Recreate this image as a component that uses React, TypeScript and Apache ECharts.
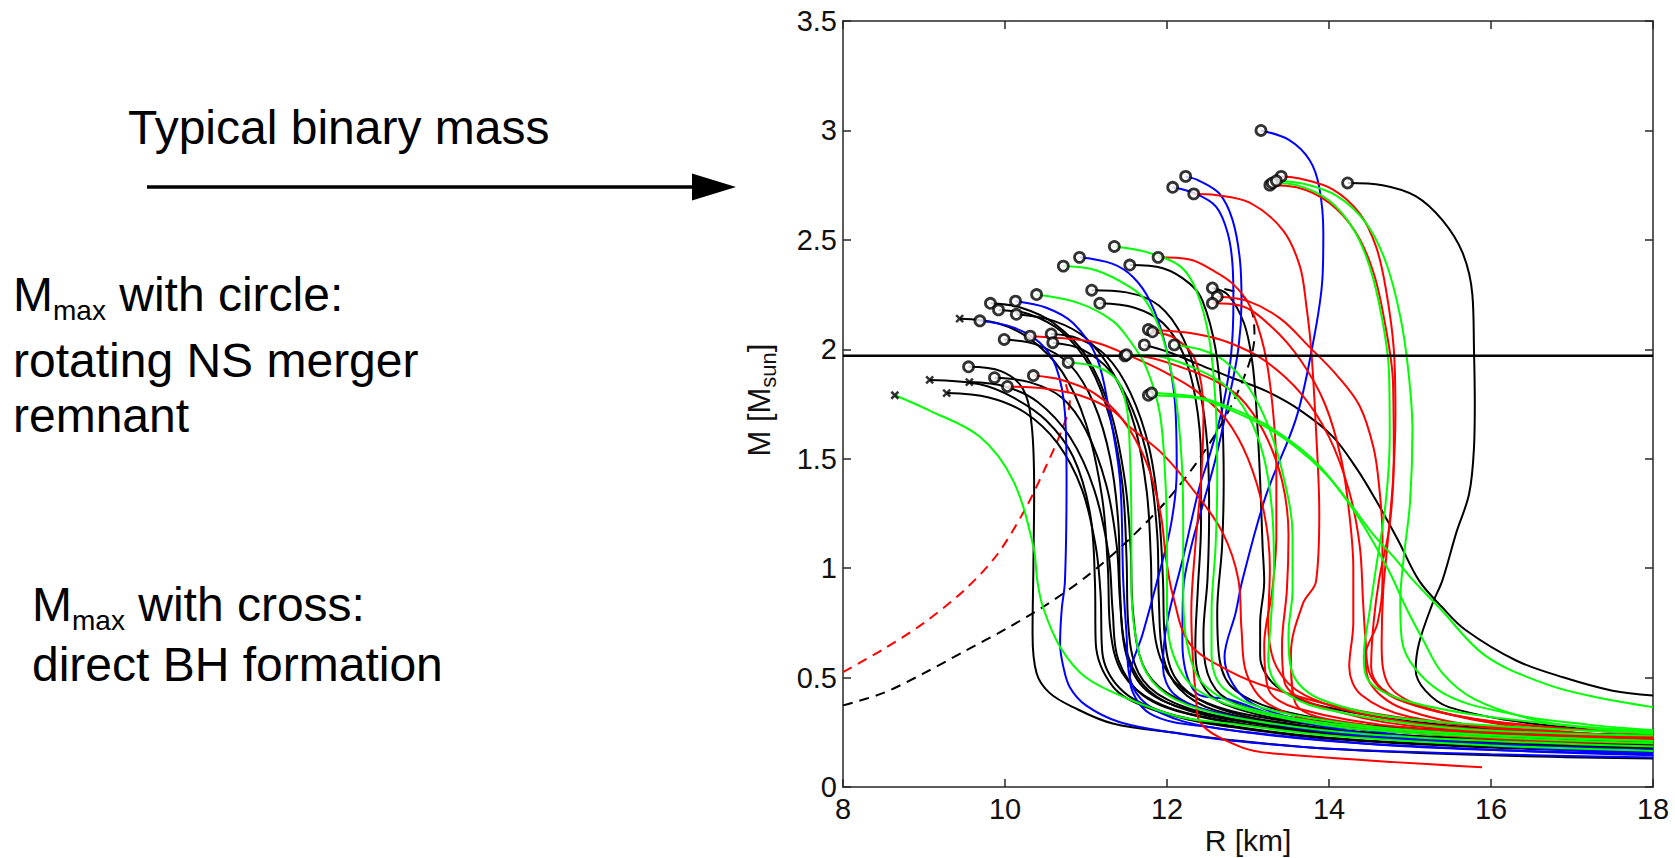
import React, { useEffect, useRef } from "react";
import * as echarts from "echarts";

// ---------- axis ranges / reference values ----------
const X_MIN = 8;
const X_MAX = 18;
const X_STEP = 2;
const Y_MIN = 0;
const Y_MAX = 3.5;
const Y_STEP = 0.5;
const MASS_LINE = 1.97; // typical binary mass line

const BLACK = "#000000";
const RED = "#ff0000";
const GREEN = "#00ff00";
const BLUE = "#0000ff";

// ---------- M(R) curves: [R km, M Msun], from the maximum mass down ----------
const G_L1 = [[8.64,1.79],[9.07,1.72],[9.69,1.60],[10.10,1.40],[10.35,1.10],[10.40,0.94],[10.47,0.82],[10.68,0.64],[11.0,0.50],[11.54,0.40],[12.16,0.32],[12.77,0.29],[14,0.235],[16,0.19],[18,0.165]];
const K_L2 = [[9.55,1.92],[9.95,1.90],[10.22,1.82],[10.33,1.65],[10.36,1.35],[10.35,1.0],[10.34,0.7],[10.39,0.52],[10.55,0.43],[10.84,0.365],[11.33,0.29],[12.16,0.245],[12.77,0.215],[14,0.175],[16,0.145],[18,0.13]];
const K_L3 = [[9.07,1.86],[9.69,1.84],[10.10,1.78],[10.51,1.675],[10.84,1.51],[11.05,1.25],[11.11,0.94],[11.12,0.66],[11.33,0.46],[11.74,0.365],[12.36,0.30],[12.77,0.275],[14,0.22],[16,0.18],[18,0.16]];
const K_L4 = [[9.28,1.80],[9.8,1.78],[10.25,1.71],[10.65,1.57],[10.95,1.36],[11.12,1.1],[11.18,0.88],[11.2,0.62],[11.42,0.45],[11.9,0.35],[12.6,0.29],[14,0.225],[16,0.185],[18,0.165]];
const K_L5 = [[9.44,2.14],[9.9,2.12],[10.3,2.05],[10.7,1.9],[11.0,1.66],[11.2,1.32],[11.27,1.0],[11.3,0.72],[11.45,0.52],[11.85,0.39],[12.6,0.31],[14,0.24],[16,0.195],[18,0.17]];
const K_L6 = [[9.56,1.85],[10.0,1.83],[10.4,1.76],[10.8,1.6],[11.1,1.36],[11.28,1.06],[11.33,0.8],[11.4,0.58],[11.7,0.42],[12.3,0.33],[13.5,0.26],[16,0.2],[18,0.175]];
const B_L7 = [[9.69,2.13],[10.10,2.10],[10.43,2.03],[10.63,1.92],[10.74,1.71],[10.76,1.40],[10.74,0.94],[10.70,0.81],[10.68,0.655],[10.72,0.55],[10.80,0.456],[11.0,0.373],[11.42,0.296],[12.16,0.243],[12.77,0.213],[14,0.175],[16,0.15],[18,0.135]];
const K_L8 = [[9.82,2.21],[10.2,2.19],[10.6,2.12],[11.0,1.97],[11.3,1.72],[11.48,1.4],[11.55,1.1],[11.58,0.8],[11.7,0.56],[12.0,0.43],[12.6,0.34],[14,0.26],[16,0.21],[18,0.185]];
const K_L9 = [[9.87,1.87],[10.3,1.85],[10.7,1.78],[11.0,1.63],[11.25,1.38],[11.38,1.1],[11.42,0.85],[11.5,0.6],[11.75,0.44],[12.3,0.35],[13.5,0.27],[16,0.2],[18,0.18]];
const K_L10 = [[9.92,2.18],[10.3,2.16],[10.7,2.08],[11.05,1.92],[11.3,1.68],[11.45,1.38],[11.5,1.05],[11.52,0.75],[11.65,0.52],[12.0,0.40],[12.7,0.32],[14,0.25],[16,0.2],[18,0.175]];
const K_L11 = [[9.99,2.045],[10.4,2.02],[10.8,1.93],[11.1,1.75],[11.3,1.5],[11.4,1.2],[11.42,0.9],[11.48,0.65],[11.7,0.47],[12.1,0.37],[12.9,0.30],[14.5,0.23],[18,0.17]];
const R_L12 = [[10.03,1.83],[10.51,1.82],[10.92,1.79],[11.33,1.72],[11.54,1.645],[11.95,1.52],[12.36,1.34],[12.69,1.16],[12.88,0.95],[12.92,0.72],[12.98,0.52],[13.25,0.38],[14,0.29],[16,0.225],[18,0.2]];
const B_L13 = [[10.13,2.22],[10.51,2.19],[10.84,2.12],[11.13,1.965],[11.29,1.71],[11.42,1.40],[11.46,0.94],[11.5,0.7],[11.54,0.5],[11.74,0.38],[12.2,0.30],[13,0.25],[15,0.185],[18,0.15]];
const K_L14 = [[10.14,2.16],[10.6,2.13],[11.0,2.05],[11.35,1.88],[11.6,1.65],[11.75,1.35],[11.8,1.05],[11.82,0.8],[11.95,0.56],[12.3,0.42],[13,0.33],[14.5,0.26],[18,0.19]];
const R_L15 = [[10.31,2.06],[10.72,2.05],[11.13,2.03],[11.54,1.97],[11.95,1.90],[12.36,1.81],[12.73,1.68],[13.0,1.5],[13.2,1.25],[13.27,1.0],[13.25,0.75],[13.35,0.55],[13.7,0.42],[14.6,0.32],[16,0.26],[18,0.225]];
const K_L16A = [[10.57,2.07],[10.9,2.05],[11.25,1.97],[11.55,1.8],[11.78,1.55],[11.9,1.25],[11.95,0.95],[11.97,0.7],[12.1,0.5],[12.5,0.38],[13.3,0.3],[15,0.235],[18,0.2]];
const K_L16B = [[10.59,2.03],[10.95,2.0],[11.3,1.9],[11.58,1.72],[11.78,1.47],[11.88,1.15],[11.9,0.85],[11.95,0.6],[12.15,0.45],[12.6,0.35],[13.8,0.27],[16,0.21],[18,0.19]];
const G_L17 = [[10.78,1.94],[11.13,1.92],[11.38,1.86],[11.5,1.74],[11.54,1.55],[11.56,1.2],[11.56,0.94],[11.6,0.72],[11.75,0.52],[12.1,0.40],[12.8,0.32],[14.5,0.24],[18,0.185]];
const G_L18 = [[10.39,2.25],[10.92,2.21],[11.33,2.13],[11.54,2.04],[11.74,1.92],[11.91,1.71],[11.98,1.4],[12.0,1.1],[12.0,0.8],[12.08,0.6],[12.35,0.45],[13.0,0.35],[14.5,0.26],[18,0.2]];
const R_L19 = [[10.35,1.88],[10.7,1.86],[11.1,1.8],[11.45,1.68],[11.75,1.48],[11.92,1.25],[11.99,1.04],[12.07,0.88],[12.28,0.655],[12.77,0.53],[13.3,0.45],[14.2,0.36],[15.5,0.29],[18,0.225]];
const G_M1 = [[10.72,2.38],[11.13,2.36],[11.54,2.285],[11.74,2.22],[11.95,2.05],[12.1,1.8],[12.18,1.5],[12.2,1.2],[12.2,0.9],[12.25,0.65],[12.45,0.47],[13.0,0.36],[14.5,0.27],[18,0.21]];
const B_M2 = [[10.92,2.42],[11.33,2.39],[11.58,2.33],[11.79,2.22],[11.98,2.02],[12.1,1.75],[12.12,1.45],[12.05,1.2],[11.87,0.93],[11.7,0.7],[11.54,0.50],[11.79,0.335],[12.6,0.27],[14,0.21],[16,0.17],[18,0.145]];
const G_M3 = [[11.35,2.47],[11.74,2.445],[12.16,2.38],[12.36,2.27],[12.52,2.05],[12.6,1.75],[12.62,1.4],[12.6,1.1],[12.55,0.8],[12.55,0.6],[12.7,0.45],[13.3,0.35],[15,0.26],[18,0.21]];
const K_M4 = [[11.54,2.385],[11.95,2.37],[12.28,2.30],[12.44,2.22],[12.6,2.0],[12.68,1.7],[12.7,1.4],[12.68,1.1],[12.62,0.8],[12.65,0.58],[12.85,0.44],[13.5,0.34],[15,0.26],[18,0.2]];
const R_M5 = [[11.89,2.42],[12.28,2.41],[12.57,2.36],[12.81,2.3],[13.02,2.2],[13.2,2.0],[13.3,1.75],[13.35,1.45],[13.35,1.15],[13.3,0.9],[13.2,0.65],[13.25,0.45],[13.6,0.36],[15,0.27],[18,0.22]];
const K_K2 = [[11.07,2.27],[11.5,2.26],[11.9,2.2],[12.2,2.05],[12.4,1.82],[12.5,1.55],[12.52,1.25],[12.5,0.95],[12.45,0.7],[12.5,0.52],[12.75,0.4],[13.5,0.32],[15,0.27],[18,0.22]];
const K_K3 = [[11.17,2.21],[11.6,2.19],[11.95,2.12],[12.2,1.98],[12.35,1.78],[12.42,1.5],[12.42,1.2],[12.38,0.9],[12.35,0.65],[12.42,0.48],[12.7,0.38],[13.6,0.3],[15.5,0.25],[18,0.21]];
const R_R1 = [[12.33,2.71],[12.6,2.705],[13.02,2.67],[13.43,2.545],[13.64,2.38],[13.72,2.2],[13.78,2.0],[13.84,1.63],[13.88,1.25],[13.84,0.94],[13.68,0.84],[13.53,0.61],[13.59,0.38],[14.5,0.28],[16,0.22],[18,0.2]];
const R_R2 = [[12.62,2.24],[13.0,2.22],[13.4,2.14],[13.76,2.01],[14.1,1.88],[14.38,1.74],[14.55,1.55],[14.62,1.37],[14.66,1.15],[14.66,0.94],[14.6,0.75],[14.45,0.6],[14.5,0.48],[14.9,0.36],[16,0.27],[18,0.23]];
const K_K1 = [[12.56,2.28],[12.75,2.25],[12.95,2.12],[13.05,1.95],[13.1,1.75],[13.15,1.4],[13.18,1.1],[13.2,0.94],[13.15,0.75],[13.15,0.6],[13.35,0.46],[13.9,0.37],[15.5,0.28],[18,0.235]];
const R_R3 = [[12.56,2.21],[12.9,2.2],[13.3,2.1],[13.65,1.95],[13.95,1.75],[14.15,1.5],[14.25,1.25],[14.3,1.0],[14.3,0.75],[14.25,0.55],[14.4,0.42],[15,0.32],[16.5,0.26],[18,0.225]];
const B_B1 = [[13.16,3.00],[13.51,2.956],[13.76,2.865],[13.88,2.74],[13.93,2.53],[13.92,2.33],[13.77,1.965],[13.59,1.68],[13.22,1.33],[12.93,0.944],[12.85,0.8],[12.71,0.594],[13.06,0.38],[14.45,0.26],[16,0.19],[18,0.15]];
const B_B2 = [[12.23,2.79],[12.40,2.77],[12.65,2.71],[12.81,2.59],[12.90,2.41],[12.92,2.22],[12.88,2.0],[12.75,1.75],[12.6,1.5],[12.45,1.3],[12.3,1.1],[12.2,0.9],[12.19,0.66],[12.36,0.43],[12.77,0.40],[13.5,0.31],[15,0.22],[18,0.17]];
const B_B3 = [[12.07,2.74],[12.36,2.71],[12.61,2.65],[12.75,2.53],[12.81,2.38],[12.82,2.22],[12.79,1.97],[12.69,1.74],[12.53,1.52],[12.40,1.37],[12.2,1.05],[12.0,0.75],[11.95,0.55],[12.1,0.42],[12.6,0.34],[14,0.25],[16,0.19],[18,0.16]];
const R_R4 = [[11.48,1.97],[11.74,1.965],[12.16,1.92],[12.57,1.86],[12.9,1.78],[13.2,1.62],[13.42,1.4],[13.5,1.15],[13.48,0.9],[13.42,0.65],[13.45,0.48],[13.8,0.38],[15,0.28],[18,0.215]];
const G_G4 = [[11.5,1.975],[11.85,1.97],[12.3,1.92],[12.7,1.84],[13.0,1.7],[13.2,1.5],[13.3,1.25],[13.32,1.0],[13.28,0.75],[13.25,0.58],[13.4,0.45],[13.9,0.36],[15.5,0.27],[18,0.235]];
const R_R5 = [[11.77,2.09],[12.36,2.07],[12.77,2.03],[13.2,1.95],[13.65,1.8],[14.0,1.6],[14.25,1.35],[14.38,1.1],[14.42,0.85],[14.45,0.68],[14.5,0.52],[14.85,0.4],[16,0.3],[18,0.245]];
const G_G5 = [[12.09,2.02],[12.4,2.0],[12.7,1.95],[13.0,1.83],[13.25,1.65],[13.45,1.4],[13.55,1.15],[13.55,0.9],[13.5,0.7],[13.55,0.52],[13.9,0.4],[15,0.31],[18,0.245]];
const R_R7 = [[11.82,2.08],[12.1,2.05],[12.35,1.95],[12.45,1.7],[12.42,1.4],[12.35,1.1],[12.3,0.8],[12.32,0.58],[12.36,0.40],[12.40,0.30],[12.93,0.18],[13.43,0.15],[15.89,0.09]];
const K_LB = [[11.72,2.02],[12.0,1.99],[12.40,1.93],[12.8,1.87],[13.22,1.81],[13.65,1.72],[14.05,1.60],[14.35,1.45],[14.58,1.31],[14.85,1.13],[15.11,0.944],[15.4,0.82],[15.69,0.716],[16.31,0.578],[16.9,0.5],[17.5,0.44],[18,0.418]];
const G_GL1 = [[11.77,1.79],[12.1,1.785],[12.4,1.775],[12.8,1.72],[13.22,1.645],[13.6,1.55],[13.96,1.43],[14.25,1.3],[14.54,1.157],[14.8,1.05],[15.04,0.944],[15.36,0.82],[15.93,0.60],[16.68,0.47],[17.3,0.41],[18,0.365]];
const G_GL2 = [[11.81,1.80],[12.4,1.78],[12.8,1.73],[13.2,1.66],[13.6,1.56],[13.9,1.46],[14.2,1.32],[14.45,1.18],[14.75,0.98],[14.95,0.82],[15.15,0.68],[15.4,0.52],[15.8,0.4],[16.5,0.31],[17.2,0.27],[18,0.25]];
const R_CR1 = [[13.41,2.79],[13.64,2.78],[14.05,2.73],[14.38,2.62],[14.58,2.47],[14.70,2.28],[14.80,2.0],[14.82,1.7],[14.79,1.40],[14.72,1.1],[14.67,0.9],[14.65,0.66],[14.73,0.47],[15.07,0.38],[15.89,0.30],[17,0.25],[18,0.225]];
const G_CG1 = [[13.3,2.76],[13.6,2.75],[14.0,2.68],[14.3,2.55],[14.5,2.38],[14.65,2.15],[14.74,1.9],[14.75,1.6],[14.7,1.3],[14.58,1.0],[14.5,0.8],[14.43,0.6],[14.5,0.48],[14.9,0.4],[15.8,0.33],[17,0.28],[18,0.255]];
const R_CR2 = [[13.27,2.75],[13.6,2.74],[14.0,2.67],[14.32,2.54],[14.55,2.35],[14.7,2.1],[14.79,1.85],[14.8,1.5],[14.75,1.2],[14.62,0.95],[14.55,0.75],[14.52,0.55],[14.65,0.45],[15.1,0.37],[16,0.3],[18,0.24]];
const G_CG2 = [[13.35,2.77],[13.7,2.755],[14.1,2.70],[14.45,2.58],[14.7,2.4],[14.88,2.15],[14.98,1.9],[15.03,1.63],[15.0,1.3],[14.92,1.04],[14.88,0.85],[14.9,0.67],[15.36,0.44],[16.3,0.33],[17.2,0.285],[18,0.26]];
const K_BK2 = [[14.23,2.76],[14.66,2.75],[15.07,2.70],[15.40,2.59],[15.65,2.44],[15.77,2.25],[15.79,2.0],[15.8,1.75],[15.79,1.55],[15.73,1.34],[15.57,1.16],[15.40,0.944],[15.28,0.84],[15.11,0.655],[15.07,0.533],[15.19,0.44],[15.48,0.365],[16.5,0.29],[18,0.245]];

// dashed reference curves
const RED_DASH = [[8,0.525],[8.5,0.63],[9.0,0.75],[9.5,0.9],[9.9,1.06],[10.25,1.27],[10.5,1.46],[10.7,1.63],[10.8,1.76],[10.75,1.84]];
const BLACK_DASH = [[8,0.373],[8.5,0.43],[9.0,0.52],[9.5,0.62],[10.0,0.72],[10.5,0.83],[11.0,0.96],[11.5,1.12],[12.0,1.31],[12.4,1.5],[12.75,1.71],[13.0,1.92],[13.08,2.06],[13.05,2.17],[12.92,2.25],[12.65,2.28]];

type Curve = { pts: number[][]; color: string; mark: "circle" | "cross" };

const CURVES: Curve[] = [
  { pts: K_L2, color: BLACK, mark: "circle" },
  { pts: K_L3, color: BLACK, mark: "cross" },
  { pts: K_L4, color: BLACK, mark: "cross" },
  { pts: K_L5, color: BLACK, mark: "cross" },
  { pts: K_L6, color: BLACK, mark: "cross" },
  { pts: K_L8, color: BLACK, mark: "circle" },
  { pts: K_L9, color: BLACK, mark: "circle" },
  { pts: K_L10, color: BLACK, mark: "circle" },
  { pts: K_L11, color: BLACK, mark: "circle" },
  { pts: K_L14, color: BLACK, mark: "circle" },
  { pts: K_L16A, color: BLACK, mark: "circle" },
  { pts: K_L16B, color: BLACK, mark: "circle" },
  { pts: K_M4, color: BLACK, mark: "circle" },
  { pts: K_K1, color: BLACK, mark: "circle" },
  { pts: K_K2, color: BLACK, mark: "circle" },
  { pts: K_K3, color: BLACK, mark: "circle" },
  { pts: K_LB, color: BLACK, mark: "circle" },
  { pts: K_BK2, color: BLACK, mark: "circle" },
  { pts: B_L7, color: BLUE, mark: "circle" },
  { pts: B_L13, color: BLUE, mark: "circle" },
  { pts: B_M2, color: BLUE, mark: "circle" },
  { pts: B_B1, color: BLUE, mark: "circle" },
  { pts: B_B2, color: BLUE, mark: "circle" },
  { pts: B_B3, color: BLUE, mark: "circle" },
  { pts: R_L12, color: RED, mark: "circle" },
  { pts: R_L15, color: RED, mark: "circle" },
  { pts: R_L19, color: RED, mark: "circle" },
  { pts: R_M5, color: RED, mark: "circle" },
  { pts: R_R1, color: RED, mark: "circle" },
  { pts: R_R2, color: RED, mark: "circle" },
  { pts: R_R3, color: RED, mark: "circle" },
  { pts: R_R4, color: RED, mark: "circle" },
  { pts: R_R5, color: RED, mark: "circle" },
  { pts: R_R7, color: RED, mark: "circle" },
  { pts: R_CR1, color: RED, mark: "circle" },
  { pts: R_CR2, color: RED, mark: "circle" },
  { pts: G_L1, color: GREEN, mark: "cross" },
  { pts: G_L17, color: GREEN, mark: "circle" },
  { pts: G_L18, color: GREEN, mark: "circle" },
  { pts: G_M1, color: GREEN, mark: "circle" },
  { pts: G_M3, color: GREEN, mark: "circle" },
  { pts: G_G4, color: GREEN, mark: "circle" },
  { pts: G_G5, color: GREEN, mark: "circle" },
  { pts: G_GL1, color: GREEN, mark: "circle" },
  { pts: G_GL2, color: GREEN, mark: "circle" },
  { pts: G_CG1, color: GREEN, mark: "circle" },
  { pts: G_CG2, color: GREEN, mark: "circle" },
];

const FONT = "Liberation Sans, Arial, Helvetica, sans-serif";
const AXIS_COLOR = "#262626";

function buildOption() {
  const axisCommon = {
    axisLine: { show: true, onZero: false, lineStyle: { color: AXIS_COLOR, width: 1.5 } },
    axisTick: { show: true, inside: true, length: 8, lineStyle: { color: AXIS_COLOR, width: 1.5 } },
    splitLine: { show: false },
  };
  const labelStyle = { fontSize: 29, color: "#111", fontFamily: FONT };

  const curveSeries = CURVES.map((c) => ({
    type: "line",
    data: c.pts,
    symbol: "none",
    smooth: 0.35,
    silent: true,
    z: 2,
    lineStyle: { color: c.color, width: 2 },
  }));

  const circles = CURVES.filter((c) => c.mark === "circle").map((c) => c.pts[0]);
  const crosses = CURVES.filter((c) => c.mark === "cross").map((c) => c.pts[0]);

  const m = { fontSize: 48, lineHeight: 60, fontFamily: FONT, fill: "#000" };
  const sub = { fontSize: 28, verticalAlign: "bottom", fontFamily: FONT, fill: "#000" };
  const richText = (x: number, y: number, text: string) => ({
    type: "text",
    x,
    y,
    silent: true,
    style: { text, align: "left", verticalAlign: "top", rich: { m, s: sub }, fill: "#000" },
  });

  return {
    animation: false,
    backgroundColor: "#ffffff",
    grid: { left: 843, top: 21, width: 810, height: 766, containLabel: false, outerBoundsMode: "none" },
    xAxis: [
      {
        type: "value", min: X_MIN, max: X_MAX, interval: X_STEP, position: "bottom",
        ...axisCommon,
        axisLabel: { ...labelStyle, margin: 7 },
      },
      {
        type: "value", min: X_MIN, max: X_MAX, interval: X_STEP, position: "top",
        ...axisCommon,
        axisLabel: { show: false },
      },
    ],
    yAxis: [
      {
        type: "value", min: Y_MIN, max: Y_MAX, interval: Y_STEP, position: "left",
        ...axisCommon,
        axisLabel: { ...labelStyle, margin: 6 },
      },
      {
        type: "value", min: Y_MIN, max: Y_MAX, interval: Y_STEP, position: "right",
        ...axisCommon,
        axisLabel: { show: false },
      },
    ],
    series: [
      {
        type: "line", data: BLACK_DASH, symbol: "none", smooth: 0.3, silent: true, z: 2,
        lineStyle: { color: BLACK, width: 2, type: [10, 7] },
      },
      {
        type: "line", data: RED_DASH, symbol: "none", smooth: 0.3, silent: true, z: 2,
        lineStyle: { color: RED, width: 2, type: [10, 7] },
      },
      ...curveSeries,
      {
        type: "line", data: [[X_MIN, MASS_LINE], [X_MAX, MASS_LINE]], symbol: "none", silent: true, z: 4,
        lineStyle: { color: BLACK, width: 2.5 },
      },
      {
        type: "scatter", data: circles, symbol: "circle", symbolSize: 10, silent: true, z: 6,
        itemStyle: { color: "#ffffff", borderColor: BLACK, borderWidth: 2.8 },
      },
      {
        type: "scatter", data: crosses, symbol: "path://M0,0L10,10M10,0L0,10", symbolSize: 7, silent: true, z: 6,
        itemStyle: { color: "none", borderColor: BLACK, borderWidth: 2.5 },
      },
    ],
    graphic: [
      richText(128, 97, "{m|Typical binary mass}"),
      {
        type: "line", silent: true,
        shape: { x1: 147, y1: 187, x2: 696, y2: 187 },
        style: { stroke: "#000", lineWidth: 3.5 },
      },
      {
        type: "polygon", silent: true,
        shape: { points: [[692, 173.5], [736, 187], [692, 200.5]] },
        style: { fill: "#000" },
      },
      richText(13, 264, "{m|M}{s|max}{m| with circle:}"),
      richText(13, 330, "{m|rotating NS merger}"),
      richText(13, 385, "{m|remnant}"),
      richText(32, 574, "{m|M}{s|max}{m| with cross:}"),
      richText(32, 634, "{m|direct BH formation}"),
      {
        type: "text", silent: true, x: 1248, y: 840,
        style: { text: "R [km]", fontSize: 30, fontFamily: FONT, fill: "#111", align: "center", verticalAlign: "middle" },
      },
      {
        type: "text", silent: true, x: 759, y: 400, rotation: Math.PI / 2,
        style: {
          text: "{a|M [M}{s|sun}{a|]}",
          align: "center",
          verticalAlign: "middle",
          rich: {
            a: { fontSize: 31, lineHeight: 40, fontFamily: FONT, fill: "#111" },
            s: { fontSize: 22, verticalAlign: "bottom", fontFamily: FONT, fill: "#111" },
          },
        },
      },
    ],
  };
}

export default function App() {
  const ref = useRef<HTMLDivElement>(null);
  useEffect(() => {
    if (!ref.current) return;
    const chart = echarts.init(ref.current, null, { renderer: "svg" });
    chart.setOption(buildOption() as any);
    return () => chart.dispose();
  }, []);
  return (
    <div
      ref={ref}
      style={{ position: "absolute", left: 0, top: 0, width: 1675, height: 858, background: "#fff" }}
    />
  );
}
